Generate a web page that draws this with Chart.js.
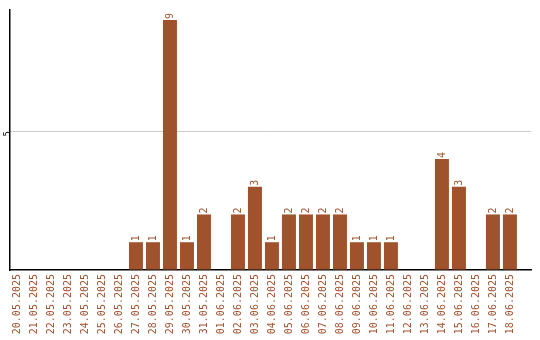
<!DOCTYPE html>
<html>
<head>
<meta charset="utf-8">
<script src="https://cdn.jsdelivr.net/npm/chart.js@4/dist/chart.umd.min.js"></script>
<style>
  html, body { margin: 0; padding: 0; background: #fff; }
  #wrap { width: 540px; height: 340px; }
</style>
</head>
<body>
<div id="wrap"><canvas id="canvas_days"></canvas></div>
<script>
var dayLabels = ['20.05.2025','21.05.2025','22.05.2025','23.05.2025','24.05.2025','25.05.2025','26.05.2025',
  '27.05.2025','28.05.2025','29.05.2025','30.05.2025','31.05.2025','01.06.2025','02.06.2025','03.06.2025',
  '04.06.2025','05.06.2025','06.06.2025','07.06.2025','08.06.2025','09.06.2025','10.06.2025','11.06.2025',
  '12.06.2025','13.06.2025','14.06.2025','15.06.2025','16.06.2025','17.06.2025','18.06.2025'];
var dayCounts = [0,0,0,0,0,0,0, 1,1,9,1,2,0,2,3, 1,2,2,2,2,1,1,1, 0,0,4,3,0,2,2];
var yTickShown = [5];

var barColor = '#a0522d';
var monoFont = { family: 'DejaVu Sans Mono', size: 10 };

// one point per day, x = day index
var dayPoints = [];
for (var d in dayCounts) {
  dayPoints.push({ x: Number(d), y: dayCounts[d] });
}

// value above each bar, turned to read upwards
var barValues = {
  id: 'barValues',
  afterDatasetsDraw: function(chart) {
    var ctx = chart.ctx;
    var meta = chart.getDatasetMeta(0);
    ctx.save();
    ctx.fillStyle = barColor;
    ctx.font = '10px "DejaVu Sans Mono"';
    ctx.textAlign = 'left';
    ctx.textBaseline = 'middle';
    meta.data.forEach(function(bar, i) {
      var v = dayCounts[i];
      if (!v) return;
      ctx.save();
      ctx.translate(bar.x, bar.y - 1);
      ctx.rotate(-Math.PI / 2);
      ctx.fillText(String(v), 0, 0);
      ctx.restore();
    });
    ctx.restore();
  }
};

var ctx_days = document.getElementById('canvas_days').getContext('2d');
new Chart(ctx_days, {
  type: 'bar',
  data: {
    datasets: [{
      data: dayPoints,
      backgroundColor: barColor,
      borderWidth: 0,
      categoryPercentage: 0.8235,
      barPercentage: 1
    }]
  },
  options: {
    responsive: true,
    maintainAspectRatio: false,
    animation: false,
    layout: { padding: { top: 10, right: 9, left: 0, bottom: 0 } },
    plugins: { legend: { display: false }, tooltip: { enabled: false } },
    scales: {
      x: {
        type: 'linear',
        offset: false,
        min: -0.41, max: 30.24,
        grid: { display: false, drawTicks: false },
        border: { color: '#000', width: 1.5 },
        afterBuildTicks: function(scale) {
          scale.ticks = dayLabels.map(function(l, i) { return { value: i }; });
        },
        ticks: {
          color: barColor, font: monoFont, padding: 4,
          minRotation: 90, maxRotation: 90, autoSkip: false,
          callback: function(v) { return dayLabels[v] || ''; }
        },
        afterFit: function(scale) { scale.height = 70; }
      },
      y: {
        min: 0, max: 9.36,
        grid: {
          drawTicks: false,
          color: function(c) { return c.tick && yTickShown.indexOf(c.tick.value) >= 0 ? '#cccccc' : 'rgba(0,0,0,0)'; }
        },
        border: { color: '#000', width: 1.5 },
        ticks: {
          stepSize: 5, color: '#000', font: { family: 'DejaVu Sans Mono', size: 9 }, padding: 2,
          minRotation: 90, maxRotation: 90,
          callback: function(v) { return yTickShown.indexOf(v) >= 0 ? String(v) : ''; }
        },
        afterFit: function(scale) { scale.width = 10; }
      }
    }
  },
  plugins: [barValues]
});
</script>
</body>
</html>
